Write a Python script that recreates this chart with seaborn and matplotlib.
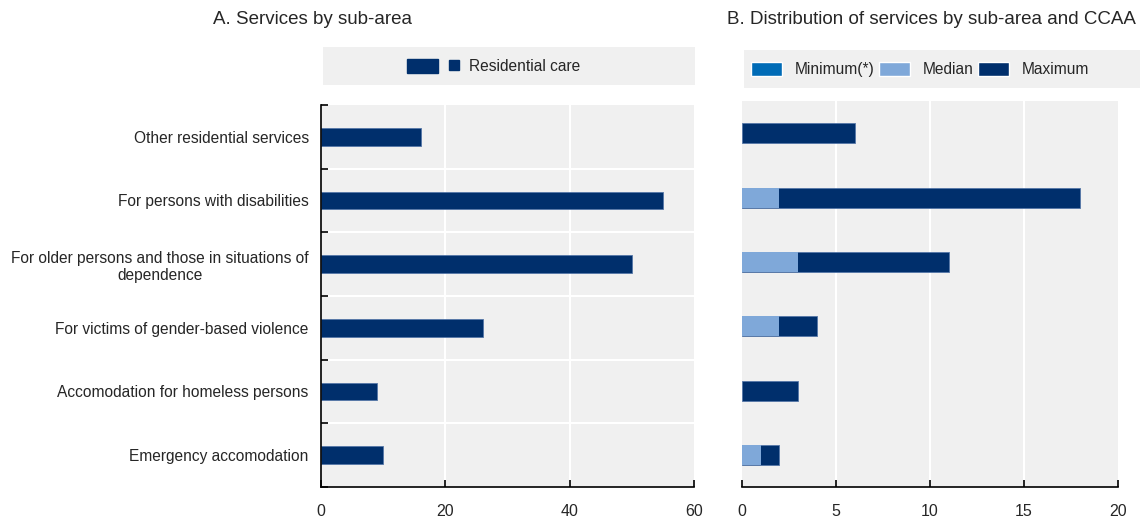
import matplotlib
matplotlib.use("Agg")
import matplotlib.pyplot as plt
from matplotlib.patches import Patch, Rectangle
from matplotlib.lines import Line2D
import seaborn as sns
import pandas as pd
import numpy as np

# Sub-area categories (top to bottom)
categories = [
    "Other residential services",
    "For persons with disabilities",
    "For older persons and those in situations of\ndependence",
    "For victims of gender-based violence",
    "Accomodation for homeless persons",
    "Emergency accomodation",
]
# Panel A: number of residential care services
residential_care = [16, 55, 50, 26, 9, 10]
# Panel B: distribution across regions (CCAA)
minimum_vals = [0, 0, 0, 0, 0, 0]
median_vals = [0, 2, 3, 2, 0, 1]
maximum_vals = [6, 18, 11, 4, 3, 2]

NAVY = "#002F6C"
LIGHT = "#7FA8D9"
MIDBLUE = "#006BB6"
BG = "#F0F0F0"

sns.set_theme(style="white")
plt.rcParams["font.family"] = ["Liberation Sans", "DejaVu Sans"]
plt.rcParams["font.size"] = 11.2

fig = plt.figure(figsize=(11.43, 5.22), dpi=100)
axA = fig.add_axes([0.281, 0.067, 0.326, 0.732])
axB = fig.add_axes([0.649, 0.067, 0.329, 0.739])

dfA = pd.DataFrame({"category": categories, "value": residential_care})
dfB = pd.DataFrame({"category": categories, "Minimum": minimum_vals,
                    "Median": median_vals, "Maximum": maximum_vals})

# Panel A bars
sns.barplot(data=dfA, y="category", x="value", orient="h", color=NAVY,
            width=0.28, ax=axA, saturation=1, edgecolor="#5577A8", linewidth=0.6)

# Panel B bars: maximum behind, median and minimum in front
sns.barplot(data=dfB, y="category", x="Maximum", orient="h", color=NAVY,
            width=0.31, ax=axB, saturation=1, edgecolor="#5577A8", linewidth=0.6)
sns.barplot(data=dfB, y="category", x="Median", orient="h", color=LIGHT,
            width=0.31, ax=axB, saturation=1, linewidth=0)
sns.barplot(data=dfB, y="category", x="Minimum", orient="h", color=MIDBLUE,
            width=0.31, ax=axB, saturation=1, linewidth=0)

for ax, xmax, xt in [(axA, 60, [0, 20, 40, 60]), (axB, 20, [0, 5, 10, 15, 20])]:
    ax.set_facecolor(BG)
    ax.set_xlim(0, xmax)
    ax.set_ylim(len(categories) - 0.5, -0.5)
    ax.set_xticks(xt)
    ax.set_xticklabels([str(v) for v in xt])
    ax.set_xlabel("")
    ax.set_ylabel("")
    ax.grid(False)
    for v in xt[1:-1]:
        ax.axvline(v, color="white", lw=1.5, zorder=0.5)
    for s in ["top", "right"]:
        ax.spines[s].set_visible(False)
    ax.spines["bottom"].set_color("black")
    ax.spines["bottom"].set_linewidth(1.2)
    ax.tick_params(axis="x", direction="in", length=5, width=1.2, color="black",
                   pad=12, labelsize=11.5, bottom=True)
    ax.set_axisbelow(True)

# Panel A: category labels, boundary ticks, separators
axA.set_yticks(range(len(categories)))
axA.set_yticklabels(categories, fontsize=11.2, multialignment="center")
axA.tick_params(axis="y", length=0, pad=9, left=False)
bounds = np.arange(-0.5, len(categories), 1.0)
axA.set_yticks(bounds, minor=True)
axA.tick_params(axis="y", which="minor", direction="in", length=5, width=1.2,
                color="black", left=True)
for b in bounds[1:-1]:
    axA.axhline(b, color="white", lw=1.5, zorder=0.5)
axA.spines["left"].set_color("black")
axA.spines["left"].set_linewidth(1.2)

# Panel B: no category axis
axB.set_yticks([])
axB.spines["left"].set_visible(False)

# Titles
fig.text(0.273, 0.963, "A. Services by sub-area", ha="center", va="center", fontsize=13.5)
fig.text(0.8145, 0.963, "B. Distribution of services by sub-area and CCAA",
         ha="center", va="center", fontsize=13.5)

# Legend backgrounds
fig.patches.append(Rectangle((0.2826, 0.837), 0.3255, 0.0728, transform=fig.transFigure,
                             facecolor=BG, edgecolor="none", zorder=0))
fig.patches.append(Rectangle((0.651, 0.831), 0.3465, 0.0728, transform=fig.transFigure,
                             facecolor=BG, edgecolor="none", zorder=0))

handlesA = [Patch(facecolor=NAVY, edgecolor=NAVY),
            Line2D([], [], marker="s", color="none", markerfacecolor=NAVY,
                   markeredgecolor=NAVY, markersize=7)]
fig.legend(handlesA, ["", "Residential care"], loc="center",
           bbox_to_anchor=(0.432, 0.873), ncol=2, frameon=False, fontsize=11.2,
           handlelength=2.0, handleheight=1.0, columnspacing=0.0, handletextpad=0.0)

handlesB = [Patch(facecolor=MIDBLUE), Patch(facecolor=LIGHT), Patch(facecolor=NAVY)]
fig.legend(handlesB, ["Minimum(*)", "Median", "Maximum"], loc="center",
           bbox_to_anchor=(0.805, 0.867), ncol=3, frameon=False, fontsize=11.2,
           handlelength=2.0, handleheight=1.0, columnspacing=0.3, handletextpad=0.8)

fig.savefig("out.png", dpi=100)
